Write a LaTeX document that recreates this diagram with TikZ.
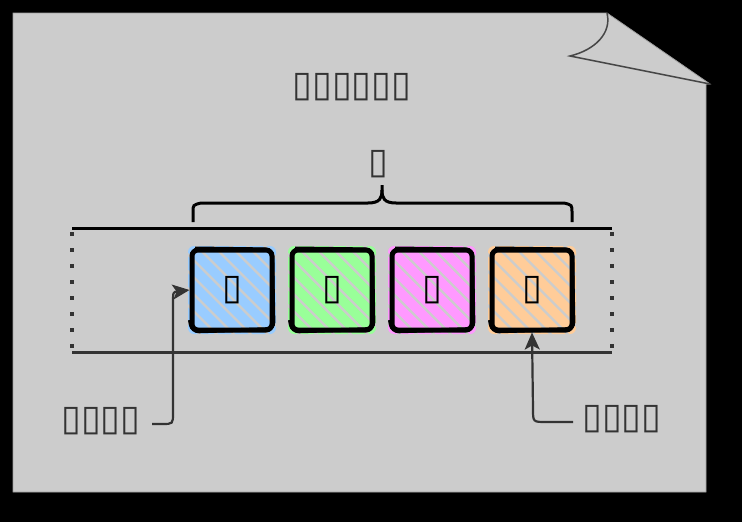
\documentclass[tikz,border=0pt]{standalone}
\usepackage{fontspec}
\newfontfamily\dvfont{DejaVu Sans}
\usetikzlibrary{arrows.meta,calc}
\definecolor{pagegray}{HTML}{CCCCCC}
\definecolor{txt}{HTML}{333333}
\definecolor{cblue}{HTML}{99CCFF}
\definecolor{cgreen}{HTML}{99FF99}
\definecolor{cpink}{HTML}{FF99FF}
\definecolor{corange}{HTML}{FFCC99}
\newcommand{\tofu}{▯}
\newcommand{\sketchbox}[4]{%
  \begin{scope}
    \clip[rounded corners=6] (#2-44,#3-44) rectangle (#2+44,#3+44);
    \foreach \k in {-8,...,8}
      \draw[#4, line width=9.5] (#2+\k*17-70,#3-70) -- ++(140,140);
  \end{scope}
  \node[cell] (#1) at (#2,#3) {\tofu};
  \draw[line width=4, rounded corners=7] (#2-37,#3-41.5) -- (#2+40,#3-40.5) -- (#2+41.5,#3+39) -- (#2-40,#3+41.5) -- (#2-42,#3+30);
}
\begin{document}
\begin{tikzpicture}[x=1pt,y=-1pt,
  label/.style={font=\dvfont\fontsize{36}{36}\selectfont, text=txt, inner sep=0},
  cell/.style={draw=black, line width=5, rounded corners=6, minimum width=80, minimum height=80, inner sep=0, font=\dvfont\fontsize{36}{36}\selectfont, text=black},
  conn/.style={draw=txt, line width=2.2, -{Stealth[length=17pt,width=15pt,inset=4pt]}},
  rail/.style={line width=3},
  dots/.style={draw=txt, line width=4, dash pattern=on 4 off 12}]
\fill[black] (0,0) rectangle (742,522);
\useasboundingbox (0,0) rectangle (742,522);
% page
\filldraw[fill=pagegray, draw=gray!75, line width=0.8] (13,13) -- (607,13) -- (710,84) -- (706,84) -- (706,492) -- (13,492) -- cycle;
\draw[draw=gray!55!black, line width=1.5] (607,13) .. controls (612,33) and (595,50) .. (570,56) -- (710,84);
% title
\node[label] (title) at (352,87) {\tofu\tofu\tofu\tofu\tofu\tofu};
\node[label] (bracetxt) at (378,164) {\tofu};
% brace
\draw[line width=3, black] (193,222) -- (193,212) .. controls (193,205) .. (201,203) -- (368,203) .. controls (380,203) and (382,198) .. (382,190) -- (382,185);
\draw[line width=3, black] (572,222) -- (572,212) .. controls (572,205) .. (564,203) -- (396,203) .. controls (384,203) and (382,198) .. (382,190);
% rails
\coordinate (tl) at (72,228);
\coordinate (tr) at (612,228);
\coordinate (bl) at (72,352);
\coordinate (br) at (612,352);
\draw[rail, black] (tl) -- (tr);
\draw[rail, txt] (bl) -- (br);
\draw[dots] (72,232) -- (bl);
\draw[dots] (612,232) -- (br);
% cells
\sketchbox{b1}{232}{290}{cblue}
\sketchbox{b2}{332}{290}{cgreen}
\sketchbox{b3}{432}{290}{cpink}
\sketchbox{b4}{532}{290}{corange}
% pointers
\node[label] (ltxt) at (101,421) {\tofu\tofu\tofu\tofu};
\node[label] (rtxt) at (622,419) {\tofu\tofu\tofu\tofu};
\coordinate (l1) at (152,424);
\coordinate (r1) at (573,422);
\draw[conn] (l1) -- (162,424) .. controls (173,424) .. (173,413) -- (173,304) .. controls (173,292) .. (b1.west);
\draw[conn] (r1) -- (546,422) .. controls (533,422) .. (533,409) -- (b4.south);
\end{tikzpicture}
\end{document}
